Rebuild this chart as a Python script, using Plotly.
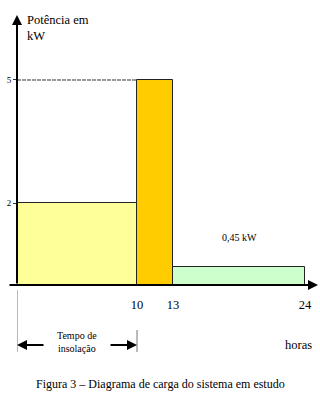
import plotly.graph_objects as go

# Data
hour_start = [0, 10, 13]
hour_end = [10, 13, 24]
power_kw = [2, 5, 0.45]
bar_colors = ["#FFFF99", "#FFCC00", "#CCFFCC"]
x_tick_vals = [10, 13, 24]
y_tick_vals = [2, 5]
insolation_hours = [0, 10]

SERIF = "Liberation Serif"

mid = [(s + e) / 2 for s, e in zip(hour_start, hour_end)]
wid = [e - s for s, e in zip(hour_start, hour_end)]

fig = go.Figure()
fig.add_trace(go.Bar(
    x=mid, y=power_kw, width=wid,
    marker=dict(color=bar_colors, line=dict(color="#222222", width=1)),
    hoverinfo="skip", showlegend=False,
))

# dashed guide line at the 5 kW level
fig.add_shape(type="line", xref="x", yref="y", x0=0, x1=hour_start[1],
              y0=power_kw[1], y1=power_kw[1],
              line=dict(color="#333333", width=1, dash="4px,1px"), layer="below")

PL, PT, PW, PH = 17, 15, 301, 270

def px_x(px):
    return (px - PL) / PW

def px_y(py):
    return 1 - (py - PT) / PH

# vertical thin guide lines under the axis (insolation time)
fig.add_shape(type="line", xref="x", yref="paper", x0=insolation_hours[0], x1=insolation_hours[0],
              y0=px_y(290), y1=px_y(352), line=dict(color="#777777", width=1))
fig.add_shape(type="line", xref="x", yref="paper", x0=insolation_hours[1], x1=insolation_hours[1],
              y0=px_y(330), y1=px_y(352), line=dict(color="#777777", width=1))

ann = []
# y axis arrow
ann.append(dict(x=0, y=1, xref="x", yref="paper", ax=0, ay=270,
                text="", showarrow=True, arrowhead=2, arrowsize=1, arrowwidth=2, arrowcolor="black"))
# x axis arrow
ann.append(dict(x=1, y=0, xref="paper", yref="y", ax=-310, ay=0,
                text="", showarrow=True, arrowhead=2, arrowsize=1, arrowwidth=2, arrowcolor="black"))
# insolation arrows
ann.append(dict(x=insolation_hours[0], y=px_y(345), xref="x", yref="paper", ax=28, ay=0,
                text="", showarrow=True, arrowhead=2, arrowsize=1, arrowwidth=2, arrowcolor="black"))
ann.append(dict(x=insolation_hours[1], y=px_y(345), xref="x", yref="paper", ax=-28, ay=0,
                text="", showarrow=True, arrowhead=2, arrowsize=1, arrowwidth=2, arrowcolor="black"))
# texts
ann.append(dict(x=px_x(25), y=px_y(11), xref="paper", yref="paper", text="Potência em<br>kW",
                showarrow=False, xanchor="left", yanchor="top", align="left",
                font=dict(family=SERIF, size=12.5, color="black")))
ann.append(dict(x=(hour_start[2] + hour_end[2]) / 2, y=power_kw[2], xref="x", yref="y",
                text="0,45 kW", showarrow=False, yshift=29, xanchor="center", yanchor="middle",
                font=dict(family=SERIF, size=10, color="black")))
ann.append(dict(x=insolation_hours[1] / 2, y=px_y(342), xref="x", yref="paper",
                text="Tempo de<br>insolação", showarrow=False, xanchor="center", yanchor="middle",
                font=dict(family=SERIF, size=10, color="black")))
ann.append(dict(x=px_x(314), y=px_y(345), xref="paper", yref="paper", text="horas", showarrow=False,
                xanchor="right", yanchor="middle",
                font=dict(family=SERIF, size=12.5, color="black")))
ann.append(dict(x=px_x(160), y=px_y(384), xref="paper", yref="paper",
                text="Figura 3 – Diagrama de carga do sistema em estudo",
                showarrow=False, xanchor="center", yanchor="middle",
                font=dict(family=SERIF, size=12, color="black")))

fig.update_layout(
    width=320, height=398,
    margin=dict(l=PL, r=320 - PL - PW, t=PT, b=398 - PT - PH),
    paper_bgcolor="white", plot_bgcolor="white",
    bargap=0,
    annotations=ann,
    font=dict(family=SERIF, color="black"),
    xaxis=dict(range=[0, 25.08], showgrid=False, zeroline=False, showline=False, automargin=False,
               tickmode="array", tickvals=x_tick_vals, ticktext=[str(v) for v in x_tick_vals],
               ticks="", ticklabelstandoff=10,
               tickfont=dict(family=SERIF, size=12.5, color="black")),
    yaxis=dict(range=[0, 6.585], showgrid=False, zeroline=False, showline=False, automargin=False,
               tickmode="array", tickvals=y_tick_vals, ticktext=[str(v) for v in y_tick_vals],
               ticks="outside", ticklen=3, tickcolor="#333333",
               tickfont=dict(family=SERIF, size=9, color="black")),
)

fig.write_html("out.html", config={"displayModeBar": False},
               post_script="document.body.style.margin='0px';document.body.style.overflow='hidden';")
